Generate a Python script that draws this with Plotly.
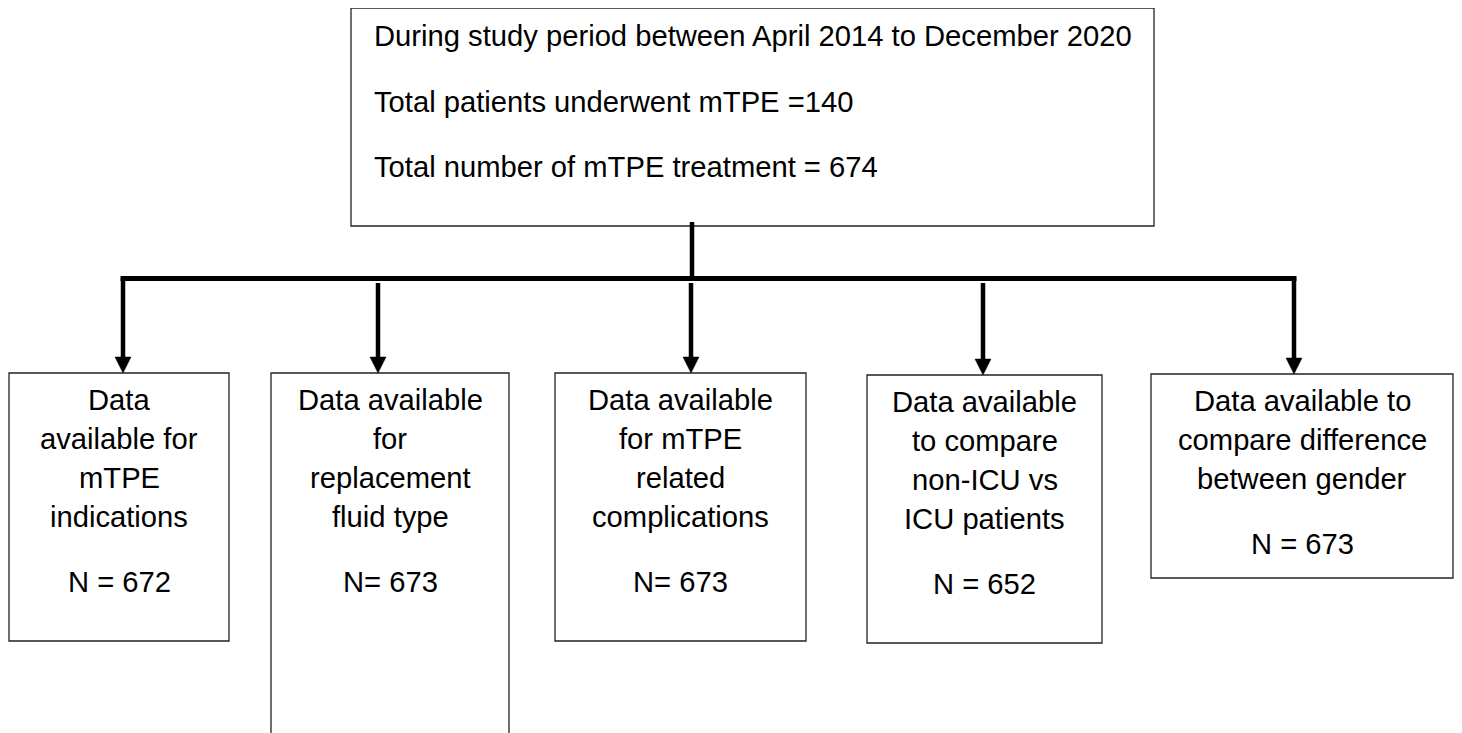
import plotly.graph_objects as go

# ---------------- data (text content) ----------------
top_lines = [
    "During study period between April 2014 to December 2020",
    "Total patients underwent mTPE =140",
    "Total number of mTPE treatment = 674",
]
box_labels = [
    ["Data", "available for", "mTPE", "indications"],
    ["Data available", "for", "replacement", "fluid type"],
    ["Data available", "for mTPE", "related", "complications"],
    ["Data available", "to compare", "non-ICU vs", "ICU patients"],
    ["Data available to", "compare difference", "between gender"],
]
n_labels = ["N = 672", "N= 673", "N= 673", "N = 652", "N = 673"]

# ---------------- layout geometry (pixels) ----------------
W, H = 1462, 733
OFF = 8  # page body margin
top_box = dict(x0=351, x1=1154, y0=8, y1=226)
top_text_x = 372
top_baselines = [46, 112, 177]
boxes = [  # x0, x1, y0, y1
    (9, 229, 373, 641),
    (271, 509, 373, 745),
    (555, 806, 373, 641),
    (867, 1102, 375, 643),
    (1151, 1453, 374, 578),
]
arrow_x = [123, 378, 691, 983, 1294]
stem_x = 692
bus_y = 278.5
FS = 29.2
FONT = "Liberation Sans, Arial, sans-serif"
line_gap = 39
n_gap = 65
first_off = 37
base_to_mid = 0.345 * FS

fig = go.Figure()
fig.add_trace(go.Scatter(x=[OFF, W], y=[OFF, H], mode="markers",
                         marker=dict(opacity=0), hoverinfo="skip", showlegend=False))

shapes = []
annotations = []

# top box
shapes.append(dict(type="rect", xref="x", yref="y", **top_box,
                   line=dict(color="#222222", width=1.3), fillcolor="white", layer="below"))
for line, b in zip(top_lines, top_baselines):
    annotations.append(dict(x=top_text_x, y=b - base_to_mid, xref="x", yref="y",
                            text=line, showarrow=False, xanchor="left", yanchor="middle",
                            font=dict(family=FONT, size=FS, color="black")))

# stem and bus
shapes.append(dict(type="line", xref="x", yref="y", x0=stem_x, x1=stem_x,
                   y0=top_box["y1"] - 4, y1=bus_y - 2, line=dict(color="black", width=4.5)))
shapes.append(dict(type="line", xref="x", yref="y", x0=arrow_x[0] - 2.5, x1=arrow_x[-1] + 2.5,
                   y0=bus_y, y1=bus_y, line=dict(color="black", width=5)))

head_h, head_w = 16, 16
for i, ((x0, x1, y0, y1), ax) in enumerate(zip(boxes, arrow_x)):
    # box
    shapes.append(dict(type="rect", xref="x", yref="y", x0=x0, x1=x1, y0=y0, y1=y1,
                       line=dict(color="#222222", width=1.3), fillcolor="white", layer="below"))
    # arrow shaft
    start = bus_y if i in (0, len(boxes) - 1) else bus_y + 4.5
    shapes.append(dict(type="line", xref="x", yref="y", x0=ax, x1=ax,
                       y0=start, y1=y0 - head_h + 1, line=dict(color="black", width=4.5)))
    # arrow head
    shapes.append(dict(type="path", xref="x", yref="y",
                       path=f"M {ax - head_w/2} {y0 - head_h} L {ax + head_w/2} {y0 - head_h} L {ax} {y0} Z",
                       fillcolor="black", line=dict(color="black", width=0.5)))
    # text
    cx = (x0 + x1) / 2
    b = y0 + first_off
    for j, line in enumerate(box_labels[i]):
        annotations.append(dict(x=cx, y=b + j * line_gap - base_to_mid, xref="x", yref="y",
                                text=line, showarrow=False, xanchor="center", yanchor="middle",
                                font=dict(family=FONT, size=FS, color="black")))
    nb = b + (len(box_labels[i]) - 1) * line_gap + n_gap
    annotations.append(dict(x=cx, y=nb - base_to_mid, xref="x", yref="y",
                            text=n_labels[i], showarrow=False, xanchor="center", yanchor="middle",
                            font=dict(family=FONT, size=FS, color="black")))

fig.update_layout(
    width=W - OFF, height=H - OFF,
    margin=dict(l=0, r=0, t=0, b=0),
    paper_bgcolor="white", plot_bgcolor="white",
    xaxis=dict(range=[OFF, W], visible=False, fixedrange=True),
    yaxis=dict(range=[H, OFF], visible=False, fixedrange=True),
    shapes=shapes, annotations=annotations, showlegend=False,
)

fig.write_html("out.html")
